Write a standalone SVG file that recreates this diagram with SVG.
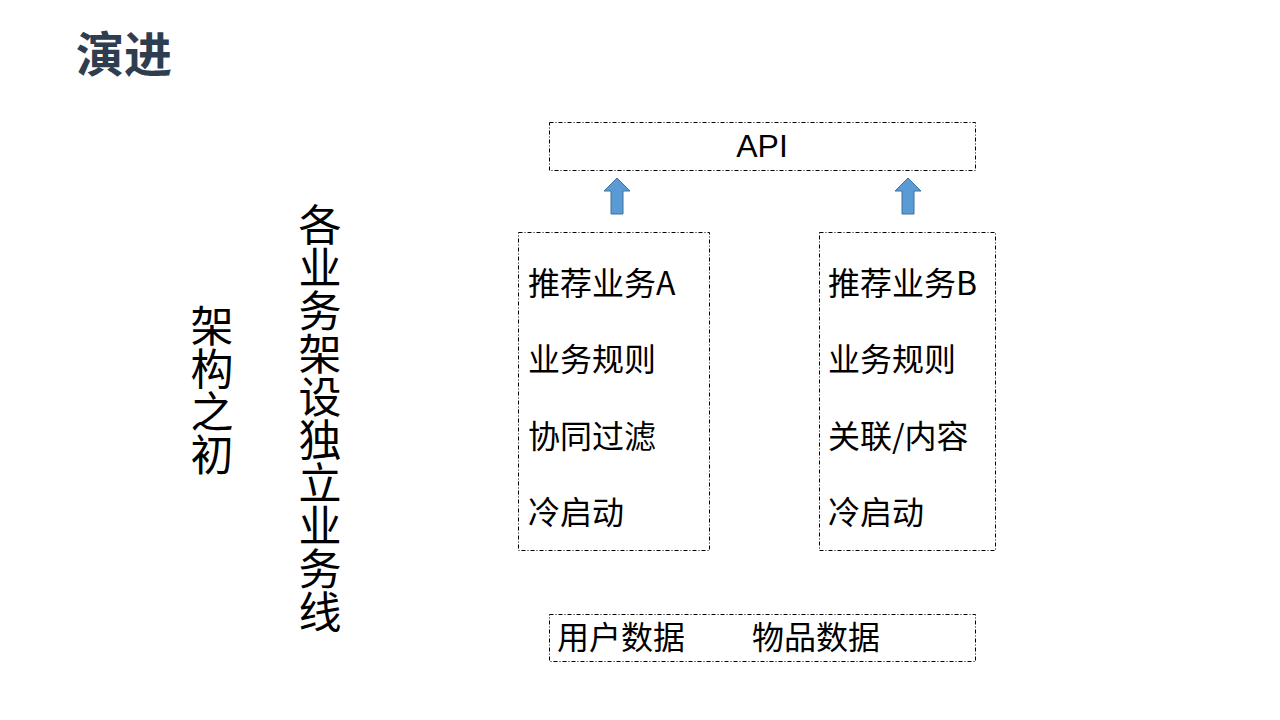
<svg xmlns="http://www.w3.org/2000/svg" width="1280" height="720" viewBox="0 0 1280 720">
<style>
.box{fill:#ffffff;stroke:#000000;stroke-width:1;stroke-dasharray:4 2 1 2}
.t{font-family:"Liberation Sans","Noto Sans CJK SC",sans-serif;font-size:32px;fill:#000000}
.cjk{font-family:"Noto Sans CJK SC","Liberation Sans",sans-serif;font-size:32px;fill:#000000}
.v{font-family:"Noto Sans CJK SC",sans-serif;font-size:43px;fill:#000000;writing-mode:vertical-rl}
.arrow{fill:#5b9bd5;stroke:#41719c;stroke-width:1}
</style>
<rect width="1280" height="720" fill="#ffffff"/>
<g id="title"><text x="76" y="72" font-family="Noto Sans CJK SC,sans-serif" font-size="48" font-weight="bold" fill="#2e3e50">演进</text></g>
<g id="label-left"><text class="v" x="212" y="304" font-size="44">架构之初</text></g>
<g id="label-right"><text class="v" x="320" y="203">各业务架设独立业务线</text></g>
<g id="api"><rect class="box" x="549.5" y="122.5" width="426" height="48"/><text class="t" x="762" y="157" text-anchor="middle">API</text></g>
<g id="service-a"><rect class="box" x="518.5" y="232.5" width="191" height="318"/>
<text class="cjk" x="528" y="295">推荐业务A</text>
<text class="cjk" x="528" y="371">业务规则</text>
<text class="cjk" x="528" y="448">协同过滤</text>
<text class="cjk" x="528" y="524">冷启动</text></g>
<g id="service-b"><rect class="box" x="819.5" y="232.5" width="176" height="318"/>
<text class="cjk" x="828" y="295">推荐业务B</text>
<text class="cjk" x="828" y="371">业务规则</text>
<text class="cjk" x="828" y="448">关联/内容</text>
<text class="cjk" x="828" y="524">冷启动</text></g>
<g id="data"><rect class="box" x="549.5" y="614.5" width="426" height="47"/>
<text class="cjk" x="557" y="649">用户数据</text>
<text class="cjk" x="752" y="649">物品数据</text></g>
<g id="connectors">
<path class="arrow" d="M611 214 V191 H604 L617 178 L630 191 H623 V214 Z"/>
<path class="arrow" d="M902 214 V191 H895 L908 178 L921 191 H914 V214 Z"/>
</g>
</svg>
